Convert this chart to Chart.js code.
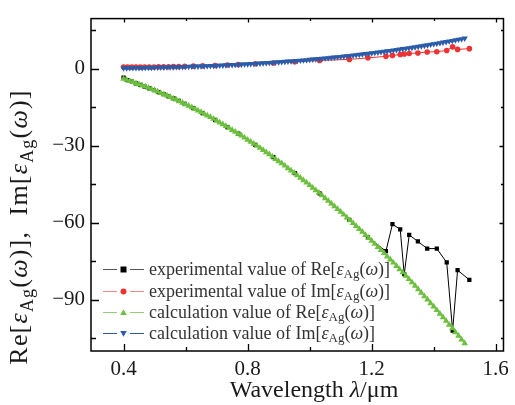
<!DOCTYPE html>
<html lang="en">
<head>
    <meta charset="UTF-8">
    <title>Permittivity of silver</title>
    <script src="https://cdn.jsdelivr.net/npm/chart.js@4.4.0/dist/chart.umd.min.js"></script>
    <style>
        body { margin: 0; background: #fff; }
        canvas { display: block; }
    </style>
</head>
<body>
    <canvas id="epsChart" width="515" height="405"></canvas>

    <script>
        // Calculated permittivity (Drude fit), wavelength in um
        const calcLambda = [
            0.40, 0.41, 0.42, 0.43, 0.44, 0.45, 0.46, 0.47, 0.48, 0.49,
            0.50, 0.51, 0.52, 0.53, 0.54, 0.55, 0.56, 0.57, 0.58, 0.59,
            0.60, 0.61, 0.62, 0.63, 0.64, 0.65, 0.66, 0.67, 0.68, 0.69,
            0.70, 0.71, 0.72, 0.73, 0.74, 0.75, 0.76, 0.77, 0.78, 0.79,
            0.80, 0.81, 0.82, 0.83, 0.84, 0.85, 0.86, 0.87, 0.88, 0.89,
            0.90, 0.91, 0.92, 0.93, 0.94, 0.95, 0.96, 0.97, 0.98, 0.99,
            1.00, 1.01, 1.02, 1.03, 1.04, 1.05, 1.06, 1.07, 1.08, 1.09,
            1.10, 1.11, 1.12, 1.13, 1.14, 1.15, 1.16, 1.17, 1.18, 1.19,
            1.20, 1.21, 1.22, 1.23, 1.24, 1.25, 1.26, 1.27, 1.28, 1.29,
            1.30, 1.31, 1.32, 1.33, 1.34, 1.35, 1.36, 1.37, 1.38, 1.39,
            1.40, 1.41, 1.42, 1.43, 1.44, 1.45, 1.46, 1.47, 1.48, 1.49,
            1.50
        ];
        const calcRe = [
            -4.0, -4.4, -4.8, -5.2, -5.7, -6.1, -6.6, -7.0, -7.5, -8.0,
            -8.4, -8.9, -9.5, -10.0, -10.5, -11.0, -11.6, -12.1, -12.7, -13.3,
            -13.9, -14.5, -15.1, -15.7, -16.3, -16.9, -17.6, -18.3, -18.9, -19.6,
            -20.3, -21.0, -21.7, -22.4, -23.1, -23.9, -24.6, -25.4, -26.1, -26.9,
            -27.7, -28.5, -29.3, -30.1, -30.9, -31.7, -32.6, -33.4, -34.3, -35.2,
            -36.1, -36.9, -37.8, -38.8, -39.7, -40.6, -41.6, -42.5, -43.5, -44.4,
            -45.4, -46.4, -47.4, -48.4, -49.4, -50.5, -51.5, -52.6, -53.6, -54.7,
            -55.8, -56.9, -58.0, -59.1, -60.2, -61.3, -62.5, -63.6, -64.8, -65.9,
            -67.1, -68.3, -69.5, -70.7, -71.9, -73.2, -74.4, -75.6, -76.9, -78.2,
            -79.4, -80.7, -82.0, -83.3, -84.6, -86.0, -87.3, -88.7, -90.0, -91.4,
            -92.7, -94.1, -95.5, -96.9, -98.3, -99.8, -101.2, -102.7, -104.1, -105.6,
            -107.0
        ];
        const calcIm = [
            0.22, 0.24, 0.26, 0.28, 0.30, 0.32, 0.34, 0.36, 0.39, 0.41,
            0.44, 0.46, 0.49, 0.52, 0.55, 0.58, 0.61, 0.65, 0.68, 0.72,
            0.76, 0.79, 0.83, 0.88, 0.92, 0.96, 1.01, 1.05, 1.10, 1.15,
            1.20, 1.25, 1.31, 1.36, 1.42, 1.48, 1.54, 1.60, 1.66, 1.73,
            1.79, 1.86, 1.93, 2.00, 2.07, 2.15, 2.23, 2.30, 2.39, 2.47,
            2.55, 2.64, 2.73, 2.82, 2.91, 3.00, 3.10, 3.19, 3.29, 3.40,
            3.50, 3.61, 3.71, 3.82, 3.94, 4.05, 4.17, 4.29, 4.41, 4.53,
            4.66, 4.79, 4.92, 5.05, 5.19, 5.32, 5.46, 5.61, 5.75, 5.90,
            6.05, 6.20, 6.36, 6.51, 6.67, 6.84, 7.00, 7.17, 7.34, 7.51,
            7.69, 7.87, 8.05, 8.23, 8.42, 8.61, 8.80, 9.00, 9.20, 9.40,
            9.60, 9.81, 10.02, 10.23, 10.45, 10.67, 10.89, 11.12, 11.35, 11.58,
            11.81
        ];

        // Measured permittivity
        const expLambda = [
            0.400, 0.413, 0.427, 0.440, 0.454, 0.468, 0.483, 0.498, 0.513, 0.529,
            0.545, 0.561, 0.578, 0.597, 0.625, 0.655, 0.695, 0.735, 0.770, 0.825,
            0.883, 0.952, 1.032, 1.128, 1.188, 1.246, 1.267, 1.292, 1.305, 1.321,
            1.349, 1.379, 1.410, 1.442, 1.461, 1.477, 1.515
        ];
        const expRe = [
            -3.5, -4.5, -5.1, -5.7, -6.3, -7.0, -7.7, -8.4, -9.1, -9.9,
            -10.8, -11.6, -12.6, -13.7, -15.4, -17.3, -20.0, -22.8, -25.3, -29.7,
            -34.5, -40.7, -48.6, -58.9, -65.7, -71.1, -60.6, -62.6, -80.1, -64.8,
            -67.3, -70.1, -70.1, -75.5, -102.1, -78.5, -82.3
        ];
        const expIm = [
            0.6, 0.6, 0.6, 0.6, 0.6, 0.6, 0.6, 0.6, 0.7, 0.7,
            0.7, 0.8, 0.8, 0.9, 1.0, 1.1, 1.2, 1.4, 1.6, 1.9,
            2.2, 2.7, 3.2, 3.6, 4.2, 4.8, 5.1, 5.5, 5.7, 5.9,
            6.1, 6.5, 6.6, 7.1, 8.5, 7.5, 7.8
        ];

        // Axis ticks (major ones get a label)
        const xTicks = [0.4, 0.6, 0.8, 1.0, 1.2, 1.4, 1.6];
        const xLabels = [0.4, 0.8, 1.2, 1.6];
        const yTicks = [15, 0, -15, -30, -45, -60, -75, -90, -105];
        const yLabels = [0, -30, -60, -90];

        const FONT = '"Liberation Serif", "DejaVu Serif", serif';
        const TEXT = '#1a1a1a';

        function pts(xs, ys) {
            return xs.map((x, i) => ({ x: x, y: ys[i] }));
        }

        // pieces of text with italic letters and subscripts
        function epsParts(prefix) {
            return [
                { t: prefix + '[' },
                { t: 'ε', it: true },
                { t: 'Ag', sub: true },
                { t: '(' },
                { t: 'ω', it: true },
                { t: ')]' }
            ];
        }

        function partFont(p, size) {
            const s = p.sub ? Math.round(size * 0.7) : size;
            return (p.it ? 'italic ' : '') + s + 'px ' + FONT;
        }

        function richWidth(ctx, parts, size) {
            let w = 0;
            parts.forEach(p => { ctx.font = partFont(p, size); w += ctx.measureText(p.t).width; });
            return w;
        }

        function drawRich(ctx, parts, x, y, size, align) {
            let cx = align === 'center' ? x - richWidth(ctx, parts, size) / 2 : x;
            ctx.textBaseline = 'alphabetic';
            ctx.textAlign = 'left';
            parts.forEach(p => {
                ctx.font = partFont(p, size);
                ctx.fillText(p.t, cx, y + (p.sub ? size * 0.22 : 0));
                cx += ctx.measureText(p.t).width;
            });
        }

        function drawMarker(ctx, style, x, y, r, color) {
            ctx.fillStyle = color;
            ctx.beginPath();
            if (style === 'rect') {
                ctx.rect(x - r, y - r, 2 * r, 2 * r);
            } else if (style === 'circle') {
                ctx.arc(x, y, r, 0, Math.PI * 2);
            } else if (style === 'up') {
                ctx.moveTo(x, y - r * 1.1);
                ctx.lineTo(x + r * 1.1, y + r * 0.8);
                ctx.lineTo(x - r * 1.1, y + r * 0.8);
            } else {
                ctx.moveTo(x, y + r * 1.1);
                ctx.lineTo(x + r * 1.1, y - r * 0.8);
                ctx.lineTo(x - r * 1.1, y - r * 0.8);
            }
            ctx.closePath();
            ctx.fill();
        }

        const series = [
            { name: 'experimental value of ', part: 'Re', color: '#000000', lineColor: '#555555', marker: 'rect' },
            { name: 'experimental value of ', part: 'Im', color: '#ee3333', lineColor: '#f08a8a', marker: 'circle' },
            { name: 'calculation value of ', part: 'Re', color: '#6cbf3f', lineColor: '#90d070', marker: 'up' },
            { name: 'calculation value of ', part: 'Im', color: '#2a5caa', lineColor: '#2a5caa', marker: 'down' }
        ];

        // frame, inward ticks, axis titles and legend
        const decorations = {
            id: 'decorations',
            afterDraw(chart) {
                const { ctx, chartArea: a, scales: { x, y } } = chart;
                ctx.save();
                ctx.strokeStyle = '#000';
                ctx.lineWidth = 1.5;
                ctx.strokeRect(a.left, a.top, a.right - a.left, a.bottom - a.top);

                ctx.lineWidth = 1.3;
                ctx.beginPath();
                xTicks.forEach(v => {
                    const px = Math.round(x.getPixelForValue(v)) + 0.5;
                    const major = xLabels.includes(v);
                    ctx.moveTo(px, a.bottom); ctx.lineTo(px, a.bottom - (major ? 7 : 4));
                    ctx.moveTo(px, a.top); ctx.lineTo(px, a.top + (major ? 4 : 2.5));
                });
                yTicks.forEach(v => {
                    const py = Math.round(y.getPixelForValue(v)) + 0.5;
                    const major = yLabels.includes(v);
                    ctx.moveTo(a.left, py); ctx.lineTo(a.left + (major ? 8 : 5), py);
                    ctx.moveTo(a.right, py); ctx.lineTo(a.right - (major ? 4 : 2.5), py);
                });
                ctx.stroke();

                ctx.fillStyle = TEXT;
                // x title
                drawRich(ctx, [{ t: 'Wavelength ' }, { t: 'λ', it: true }, { t: '/μm' }], 314, 397, 24, 'center');

                // y title, rotated, slightly tracked out
                ctx.save();
                ctx.translate(27, 227);
                ctx.rotate(-Math.PI / 2);
                ctx.fillStyle = TEXT;
                ctx.letterSpacing = '1.2px';
                const yParts = epsParts('Re').concat([{ t: ',  ' }], epsParts('Im'));
                drawRich(ctx, yParts, 0, 0, 26, 'center');
                ctx.restore();

                // legend
                const rows = [269, 291, 312, 333];
                series.forEach((s, i) => {
                    const cy = rows[i];
                    ctx.strokeStyle = s.lineColor;
                    ctx.lineWidth = 1.2;
                    ctx.beginPath();
                    ctx.moveTo(103, cy + 0.5); ctx.lineTo(117, cy + 0.5);
                    ctx.moveTo(130, cy + 0.5); ctx.lineTo(144, cy + 0.5);
                    ctx.stroke();
                    drawMarker(ctx, s.marker, 123.5, cy + 0.5, 3, s.color);
                    ctx.fillStyle = '#333';
                    const parts = epsParts(s.part);
                    parts[0].t = s.name + parts[0].t;
                    drawRich(ctx, parts, 149, cy + 5.5, 18, 'left');
                });
                ctx.restore();
            }
        };

        const ctx = document.getElementById('epsChart').getContext('2d');
        new Chart(ctx, {
            type: 'scatter',
            data: {
                datasets: [
                    {
                        label: 'experimental Re',
                        data: pts(expLambda, expRe),
                        showLine: true,
                        borderColor: '#000',
                        borderWidth: 1,
                        backgroundColor: '#000',
                        pointStyle: 'rect',
                        pointRadius: 3,
                        pointBorderWidth: 0,
                        order: 4
                    },
                    {
                        label: 'experimental Im',
                        data: pts(expLambda, expIm),
                        showLine: true,
                        borderColor: '#ee3333',
                        borderWidth: 1,
                        backgroundColor: '#ee3333',
                        pointStyle: 'circle',
                        pointRadius: 2.8,
                        pointBorderWidth: 0,
                        order: 3
                    },
                    {
                        label: 'calculation Re',
                        data: pts(calcLambda, calcRe),
                        showLine: true,
                        borderColor: '#6cbf3f',
                        borderWidth: 1,
                        backgroundColor: '#6cbf3f',
                        pointStyle: 'triangle',
                        pointRadius: 3.8,
                        pointBorderWidth: 0,
                        order: 2
                    },
                    {
                        label: 'calculation Im',
                        data: pts(calcLambda, calcIm),
                        showLine: true,
                        borderColor: '#2a5caa',
                        borderWidth: 1,
                        backgroundColor: '#2a5caa',
                        pointStyle: 'triangle',
                        rotation: 180,
                        pointRadius: 3.6,
                        pointBorderWidth: 0,
                        order: 1
                    }
                ]
            },
            options: {
                responsive: false,
                animation: false,
                layout: { padding: { top: 14, right: 8, left: 0, bottom: 0 } },
                plugins: {
                    legend: { display: false },
                    tooltip: { enabled: false }
                },
                scales: {
                    x: {
                        type: 'linear',
                        min: 0.295,
                        max: 1.625,
                        grid: { display: false, drawTicks: false },
                        border: { display: false },
                        afterBuildTicks: s => { s.ticks = xTicks.map(v => ({ value: v })); },
                        afterFit: s => { s.height = 54; },
                        ticks: {
                            autoSkip: false,
                            maxRotation: 0,
                            padding: 6,
                            color: TEXT,
                            font: { family: FONT, size: 21 },
                            callback: v => xLabels.includes(v) ? v.toFixed(1) : ''
                        }
                    },
                    y: {
                        type: 'linear',
                        min: -110,
                        max: 19.5,
                        grid: { display: false, drawTicks: false },
                        border: { display: false },
                        afterBuildTicks: s => { s.ticks = yTicks.map(v => ({ value: v })); },
                        afterFit: s => { s.width = 91; },
                        ticks: {
                            autoSkip: false,
                            padding: 6,
                            color: TEXT,
                            font: { family: FONT, size: 21 },
                            callback: v => yLabels.includes(v) ? (v < 0 ? '\u2212' + Math.abs(v) : String(v)) : ''
                        }
                    }
                }
            },
            plugins: [decorations]
        });
    </script>
</body>
</html>
